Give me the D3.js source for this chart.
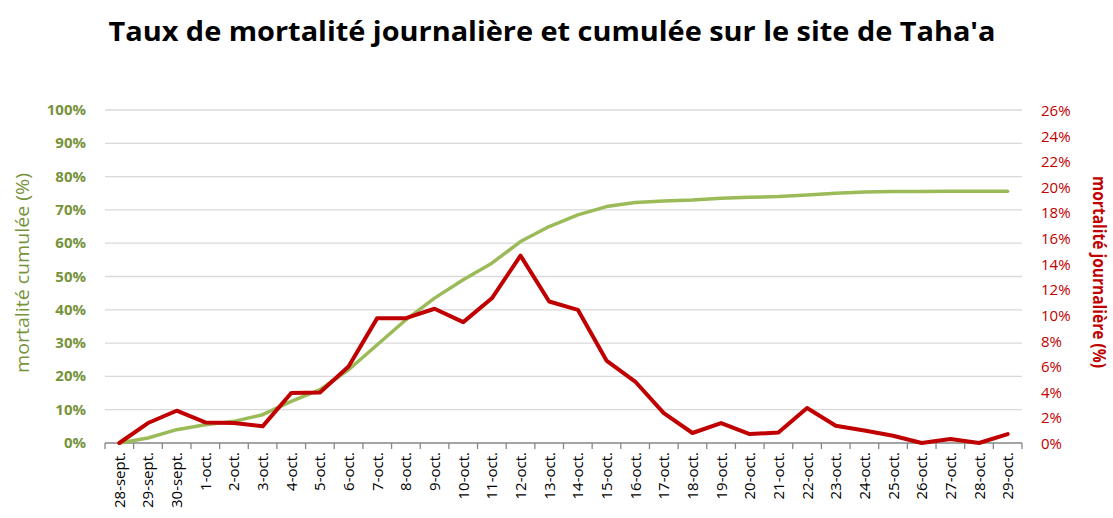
<!DOCTYPE html>
<html>
<head>
<meta charset="utf-8">
<script src="https://cdn.jsdelivr.net/npm/d3@7"></script>
<style>
  body { margin: 0; background: #fff; }
  svg { display: block; font-family: "Open Sans", sans-serif; }
</style>
</head>
<body>
<svg id="chart" width="1113" height="518"></svg>
<script>
var dates = ['28-sept.', '29-sept.', '30-sept.', '1-oct.', '2-oct.', '3-oct.', '4-oct.', '5-oct.', '6-oct.', '7-oct.',
             '8-oct.', '9-oct.', '10-oct.', '11-oct.', '12-oct.', '13-oct.', '14-oct.', '15-oct.', '16-oct.', '17-oct.',
             '18-oct.', '19-oct.', '20-oct.', '21-oct.', '22-oct.', '23-oct.', '24-oct.', '25-oct.', '26-oct.', '27-oct.',
             '28-oct.', '29-oct.'];
// mortalité cumulée (%)
var cumulee = [0, 1.5, 4, 5.5, 6.5, 8.5, 12.5, 16, 22, 29.5,
               37, 43.5, 49, 54, 60.5, 65, 68.5, 71, 72.2, 72.7,
               73, 73.5, 73.8, 74, 74.5, 75, 75.4, 75.5, 75.5, 75.6,
               75.6, 75.6];
// mortalité journalière (%)
var journaliere = [0, 1.56, 2.52, 1.61, 1.56, 1.3, 3.9, 3.95, 5.97, 9.75,
                   9.75, 10.48, 9.44, 11.3, 14.63, 11.05, 10.4, 6.44, 4.8, 2.34,
                   0.78, 1.56, 0.7, 0.82, 2.73, 1.35, 0.98, 0.57, 0, 0.31,
                   0, 0.7];
var leftTicks = [0, 10, 20, 30, 40, 50, 60, 70, 80, 90, 100];
var rightTicks = [0, 2, 4, 6, 8, 10, 12, 14, 16, 18, 20, 22, 24, 26];

var green = "#9BBB59", greenText = "#77933C", red = "#C00000";
var svg = d3.select("#chart");
var margin = {top: 110, left: 105, right: 91, bottom: 75};
var W = 1113, H = 518;

var x = d3.scaleBand().domain(dates).range([margin.left, W - margin.right]);
var yL = d3.scaleLinear().domain([0, 100]).range([H - margin.bottom, margin.top]);
var yR = d3.scaleLinear().domain([0, 26]).range([H - margin.bottom, margin.top]);

// title
svg.append("text")
    .attr("x", 552).attr("y", 41)
    .attr("text-anchor", "middle")
    .style("font-size", "26px").style("font-weight", "bold")
    .attr("textLength", 887).attr("lengthAdjust", "spacingAndGlyphs")
    .text("Taux de mortalité journalière et cumulée sur le site de Taha'a");

// gridlines
svg.append("g")
    .selectAll("line")
    .data(leftTicks.slice(1))
    .join("line")
    .attr("x1", margin.left).attr("x2", W - margin.right)
    .attr("y1", d => yL(d)).attr("y2", d => yL(d))
    .attr("stroke", "#D9D9D9").attr("stroke-width", 1.3);

// x axis
var xAxis = svg.append("g")
    .attr("transform", `translate(0,${H - margin.bottom})`);
xAxis.append("line")
    .attr("x1", margin.left).attr("x2", W - margin.right)
    .attr("stroke", "#868686").attr("stroke-width", 1.3);
xAxis.selectAll(".tk")
    .data(dates.concat(["end"]))
    .join("line")
    .attr("class", "tk")
    .attr("x1", (d, i) => margin.left + i * x.step())
    .attr("x2", (d, i) => margin.left + i * x.step())
    .attr("y1", 0).attr("y2", 6)
    .attr("stroke", "#868686").attr("stroke-width", 1.3);
xAxis.selectAll(".lbl")
    .data(dates)
    .join("text")
    .attr("class", "lbl")
    .attr("transform", d => `translate(${x(d) + x.bandwidth() / 2 + 5.5},9) rotate(-90)`)
    .attr("text-anchor", "end")
    .style("font-size", "15px")
    .attr("fill", "#000")
    .text(d => d);

// left axis labels
svg.append("g")
    .selectAll("text")
    .data(leftTicks)
    .join("text")
    .attr("x", 86).attr("y", d => yL(d) + 5)
    .attr("text-anchor", "end")
    .style("font-size", "15px").style("font-weight", "bold")
    .attr("fill", greenText)
    .text(d => d + "%");

// right axis labels
svg.append("g")
    .selectAll("text")
    .data(rightTicks)
    .join("text")
    .attr("x", 1041).attr("y", d => yR(d) + 6)
    .attr("text-anchor", "start")
    .style("font-size", "15px")
    .attr("fill", red)
    .text(d => d + "%");

// axis titles
svg.append("text")
    .attr("transform", "translate(29,273) rotate(-90)")
    .attr("text-anchor", "middle")
    .style("font-size", "19px")
    .attr("textLength", 200).attr("lengthAdjust", "spacingAndGlyphs")
    .attr("fill", greenText)
    .text("mortalité cumulée (%)");
svg.append("text")
    .attr("transform", "translate(1093,272) rotate(90)")
    .attr("text-anchor", "middle")
    .style("font-size", "18.5px").style("font-weight", "bold")
    .attr("textLength", 192).attr("lengthAdjust", "spacingAndGlyphs")
    .attr("fill", red)
    .text("mortalité journalière (%)");

// lines
var cx = d => x(d) + x.bandwidth() / 2;
var lineL = d3.line().x((d, i) => cx(dates[i])).y(d => yL(d));
var lineR = d3.line().x((d, i) => cx(dates[i])).y(d => yR(d));

svg.append("path")
    .datum(cumulee)
    .attr("d", lineL)
    .attr("fill", "none")
    .attr("stroke", green).attr("stroke-width", 3.5)
    .attr("stroke-linejoin", "round").attr("stroke-linecap", "round");

svg.append("path")
    .datum(journaliere)
    .attr("d", lineR)
    .attr("fill", "none")
    .attr("stroke", red).attr("stroke-width", 4)
    .attr("stroke-linejoin", "round").attr("stroke-linecap", "round");
</script>
</body>
</html>
